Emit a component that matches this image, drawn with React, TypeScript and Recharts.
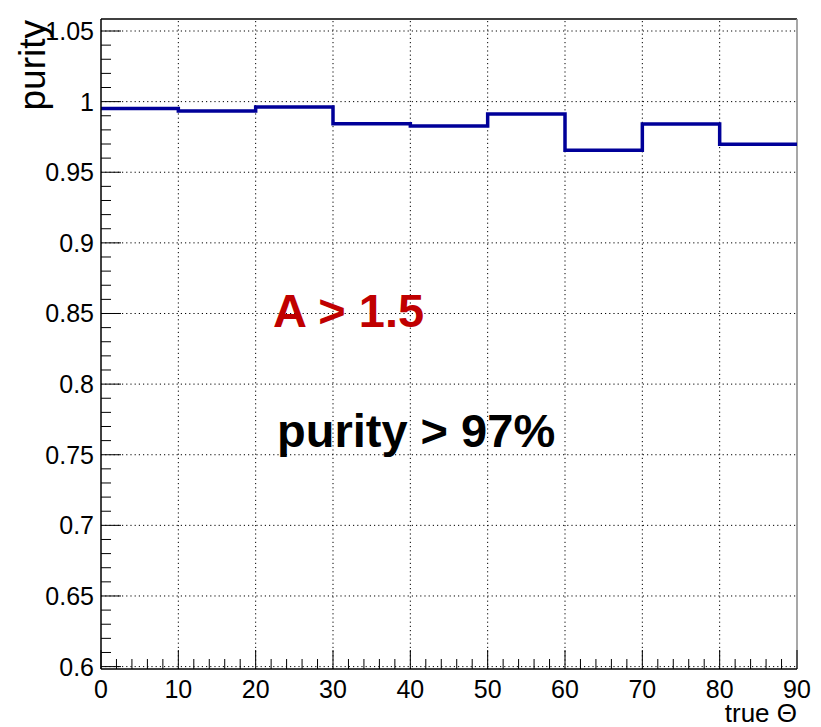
import React from 'react';
import { LineChart, Line, XAxis, YAxis, ReferenceLine } from 'recharts';

// Histogram bin edges (true Θ) and purity per bin
const binEdges = [0, 10, 20, 30, 40, 50, 60, 70, 80, 90];
const purity = [0.9952, 0.9933, 0.9962, 0.9844, 0.9827, 0.9912, 0.9655, 0.9841, 0.9699];

// Axis ticks
const xMajorTicks = [0, 10, 20, 30, 40, 50, 60, 70, 80, 90];
const yMajorTicks = [0.6, 0.65, 0.7, 0.75, 0.8, 0.85, 0.9, 0.95, 1, 1.05];
const xMinorStep = 2;
const yMinorStep = 0.01;

// Axis range
const X_MIN = 0;
const X_MAX = 90;
const Y_MIN = 0.5983;
const Y_MAX = 1.0585;

// Annotation texts
const cutLabel = 'A > 1.5';
const purityLabel = 'purity > 97%';
const xTitle = 'true Θ';
const yTitle = 'purity';

const W = 821;
const H = 727;
const MARGIN = { top: 19, right: 24, bottom: 57, left: 100 };
const FONT = '"Liberation Sans", Arial, Helvetica, sans-serif';

// Step data: one point per bin low edge plus the closing edge
const stepData = binEdges.map((edge, i) => ({
  theta: edge,
  purity: purity[Math.min(i, purity.length - 1)],
}));

const xAllTicks: number[] = [];
for (let k = X_MIN; k <= X_MAX; k += xMinorStep) xAllTicks.push(k);

const yAllTicks: number[] = [];
for (let k = Math.round(yMajorTicks[0] * 100); k <= Math.round(yMajorTicks[yMajorTicks.length - 1] * 100); k += Math.round(yMinorStep * 100)) {
  yAllTicks.push(k / 100);
}

const isXMajor = (v: number) => xMajorTicks.some((t) => Math.abs(t - v) < 1e-6);
const isYMajor = (v: number) => yMajorTicks.some((t) => Math.abs(t - v) < 1e-6);

// Ticks point into the frame, ROOT style
const XTick = (props: any) => {
  const { x, y, payload } = props;
  const v = payload.value as number;
  const major = isXMajor(v);
  return (
    <g>
      <line x1={x} x2={x} y1={y} y2={y - (major ? 19 : 10)} stroke="#000" strokeWidth={1} />
      {major && (
        <text x={x} y={y + 29} textAnchor="middle" fontFamily={FONT} fontSize={25} fill="#000">
          {String(v)}
        </text>
      )}
    </g>
  );
};

const YTick = (props: any) => {
  const { x, y, payload } = props;
  const v = payload.value as number;
  const major = isYMajor(v);
  return (
    <g>
      <line x1={x} x2={x + (major ? 20 : 10)} y1={y} y2={y} stroke="#000" strokeWidth={1} />
      {major && (
        <text x={x - 7} y={y + 9} textAnchor="end" fontFamily={FONT} fontSize={25} fill="#000">
          {String(Number(v.toFixed(2)))}
        </text>
      )}
    </g>
  );
};

const gridStyle = { stroke: '#000', strokeWidth: 1, strokeDasharray: '1.2 3' };

export default function App() {
  return (
    <div style={{ position: 'absolute', left: 0, top: 0, width: W, height: H, background: '#fff' }}>
      <LineChart width={W} height={H} data={stepData} margin={MARGIN}>
        <XAxis
          dataKey="theta"
          type="number"
          domain={[X_MIN, X_MAX]}
          ticks={xAllTicks}
          interval={0}
          height={1}
          tickSize={0}
          tickMargin={0}
          tickLine={false}
          tick={<XTick />}
          axisLine={{ stroke: '#000', strokeWidth: 1.5 }}
          allowDataOverflow
        />
        <YAxis
          type="number"
          domain={[Y_MIN, Y_MAX]}
          ticks={yAllTicks}
          interval={0}
          width={1}
          tickSize={0}
          tickMargin={0}
          tickLine={false}
          tick={<YTick />}
          axisLine={{ stroke: '#000', strokeWidth: 1.5 }}
          allowDataOverflow
        />
        {xMajorTicks.slice(1, -1).map((t) => (
          <ReferenceLine key={'gx' + t} x={t} {...gridStyle} />
        ))}
        {yMajorTicks.map((t) => (
          <ReferenceLine key={'gy' + t} y={t} {...gridStyle} />
        ))}
        <ReferenceLine y={Y_MAX} stroke="#000" strokeWidth={1.5} />
        <ReferenceLine x={X_MAX} stroke="#8a8a8a" strokeWidth={1.5} />
        <Line
          type="stepAfter"
          dataKey="purity"
          stroke="#000099"
          strokeWidth={3.5}
          dot={false}
          activeDot={false}
          isAnimationActive={false}
        />
      </LineChart>
      <svg
        width={W}
        height={H}
        style={{ position: 'absolute', left: 0, top: 0, pointerEvents: 'none' }}
      >
        <text x={273} y={327} fontFamily={FONT} fontSize={47} fontWeight="bold" fill="#c00000">
          {cutLabel}
        </text>
        <text x={277} y={447} fontFamily={FONT} fontSize={47} fontWeight="bold" fill="#000">
          {purityLabel}
        </text>
        <text x={797} y={722} textAnchor="end" fontFamily={FONT} fontSize={26} fill="#000">
          {xTitle}
        </text>
        <text
          x={45}
          y={20}
          transform="rotate(-90 45 20)"
          textAnchor="end"
          fontFamily={FONT}
          fontSize={37}
          fill="#000"
        >
          {yTitle}
        </text>
      </svg>
    </div>
  );
}
